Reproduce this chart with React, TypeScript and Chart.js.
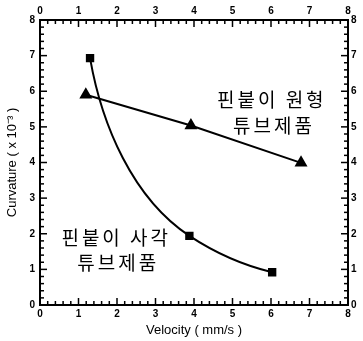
import React, { useEffect, useRef } from "react";
import { Chart, registerables } from "chart.js";

Chart.register(...registerables);

const squareVelocity = [1.3, 3.88, 6.03];
const squareCurvature = [6.93, 1.94, 0.92];
const triangleVelocity = [1.19, 3.92, 6.78];
const triangleCurvature = [5.9, 5.04, 3.99];
const tickValues = [0, 1, 2, 3, 4, 5, 6, 7, 8];

const annotations = [
  { text: "핀붙이 원형", x: 6.02, y: 5.76 },
  { text: "튜브제품", x: 6.08, y: 5.03 },
  { text: "핀붙이 사각", x: 1.98, y: 1.88 },
  { text: "튜브제품", x: 2.03, y: 1.18 },
];

// Smooth the square series along its local power-law trend (tangents from log-log slopes)
const powerLawSmoothing = {
  id: "powerLawSmoothing",
  beforeDatasetDraw(chart: any, args: any) {
    if (args.index !== 0) return;
    const meta = args.meta;
    const line = meta.dataset;
    if (line && line.updateControlPoints) line.updateControlPoints(chart.chartArea, "x");
    const pts = meta.data;
    const xv = squareVelocity;
    const yv = squareCurvature;
    const n = pts.length;
    const sx = chart.scales.x;
    const sy = chart.scales.y;
    const seg: number[] = [];
    for (let i = 0; i < n - 1; i++) {
      seg.push(Math.log(yv[i + 1] / yv[i]) / Math.log(xv[i + 1] / xv[i]));
    }
    const dirs = pts.map((_: any, i: number) => {
      const k = i === 0 ? seg[0] : i === n - 1 ? seg[n - 2] : (seg[i - 1] + seg[i]) / 2;
      const m = (k * yv[i]) / xv[i];
      const dxp = sx.getPixelForValue(xv[i] + 1) - sx.getPixelForValue(xv[i]);
      const dyp = sy.getPixelForValue(yv[i] + m) - sy.getPixelForValue(yv[i]);
      const len = Math.hypot(dxp, dyp);
      return [dxp / len, dyp / len];
    });
    for (let i = 0; i < n - 1; i++) {
      const a = pts[i];
      const b = pts[i + 1];
      const L = Math.hypot(b.x - a.x, b.y - a.y) / 3;
      a.cp2x = a.x + dirs[i][0] * L;
      a.cp2y = a.y + dirs[i][1] * L;
      b.cp1x = b.x - dirs[i + 1][0] * L;
      b.cp1y = b.y - dirs[i + 1][1] * L;
    }
    if (line) line._path = undefined;
  },
};

const inwardTicks = {
  id: "inwardTicks",
  afterDraw(chart: any) {
    const ctx = chart.ctx;
    const { left, right, top, bottom } = chart.chartArea;
    const xs = chart.scales.x;
    const ys = chart.scales.y;
    ctx.save();
    ctx.strokeStyle = "#000";
    ctx.lineWidth = 1.5;
    const seg = (x1: number, y1: number, x2: number, y2: number) => {
      ctx.beginPath();
      ctx.moveTo(x1, y1);
      ctx.lineTo(x2, y2);
      ctx.stroke();
    };
    for (let i = 0; i <= 40; i++) {
      const v = i / 5;
      const len = i % 5 === 0 ? 7 : 4;
      const px = xs.getPixelForValue(v);
      seg(px, bottom, px, bottom - len);
      seg(px, top, px, top + len);
      const py = ys.getPixelForValue(v);
      seg(left, py, left + len, py);
      seg(right, py, right - len, py);
    }
    ctx.restore();
  },
  afterDatasetsDraw(chart: any) {
    const ctx = chart.ctx;
    const xs = chart.scales.x;
    const ys = chart.scales.y;
    ctx.save();
    ctx.fillStyle = "#000";
    ctx.font = "19px 'Noto Sans CJK KR'";
    (ctx as any).letterSpacing = "3px";
    ctx.textAlign = "center";
    ctx.textBaseline = "middle";
    for (const a of annotations) {
      ctx.fillText(a.text, xs.getPixelForValue(a.x), ys.getPixelForValue(a.y));
    }
    ctx.restore();
  },
};

const tickFont = { family: "'Liberation Sans', Arial", size: 10, weight: "bold" as const };

function axis(position: string, fitSize: number, horizontal: boolean, padding: number, title?: any) {
  return {
    type: "linear" as const,
    position,
    min: 0,
    max: 8,
    afterFit(scale: any) {
      if (horizontal) scale.height = fitSize;
      else scale.width = fitSize;
    },
    afterBuildTicks(scale: any) {
      scale.ticks = tickValues.map((v) => ({ value: v }));
    },
    ticks: {
      font: tickFont,
      color: "#000",
      padding,
      autoSkip: false,
      maxRotation: 0,
    },
    grid: { display: true, drawOnChartArea: false, drawTicks: false },
    border: { display: true, color: "#000", width: 2 },
    title: title || { display: false },
  };
}

export default function App() {
  const ref = useRef<HTMLCanvasElement>(null);
  useEffect(() => {
    if (!ref.current) return;
    const chart = new Chart(ref.current, {
      type: "line",
      data: {
        datasets: [
          {
            data: squareVelocity.map((x, i) => ({ x, y: squareCurvature[i] })),
            borderColor: "#000",
            backgroundColor: "#000",
            borderWidth: 2,
            pointStyle: "rect",
            pointRadius: 4.5,
            tension: 0.4,
            xAxisID: "x",
            yAxisID: "y",
          },
          {
            data: triangleVelocity.map((x, i) => ({ x, y: triangleCurvature[i] })),
            borderColor: "#000",
            backgroundColor: "#000",
            borderWidth: 2,
            pointStyle: "triangle",
            pointRadius: 5.5,
            tension: 0,
            xAxisID: "x",
            yAxisID: "y",
          },
        ],
      },
      options: {
        responsive: false,
        animation: false,
        layout: { padding: 0 },
        plugins: { legend: { display: false }, tooltip: { enabled: false } },
        scales: {
          x: axis("bottom", 36, true, 3, {
            display: true,
            text: "Velocity ( mm/s )",
            color: "#000",
            font: { family: "'Liberation Sans', Arial", size: 13 },
            padding: { top: 0, bottom: 3 },
          }),
          x2: axis("top", 20, true, 3),
          y: axis("left", 40, false, 5, {
            display: true,
            text: "Curvature ( x 10⁻³ )",
            color: "#000",
            font: { family: "'Liberation Sans', Arial", size: 13 },
            padding: { top: 5, bottom: 0 },
          }),
          y2: axis("right", 15, false, 3),
        },
      } as any,
      plugins: [powerLawSmoothing, inwardTicks],
    });
    return () => chart.destroy();
  }, []);
  return (
    <canvas
      ref={ref}
      width={363}
      height={341}
      style={{ position: "absolute", left: 0, top: 0, width: 363, height: 341 }}
    />
  );
}
